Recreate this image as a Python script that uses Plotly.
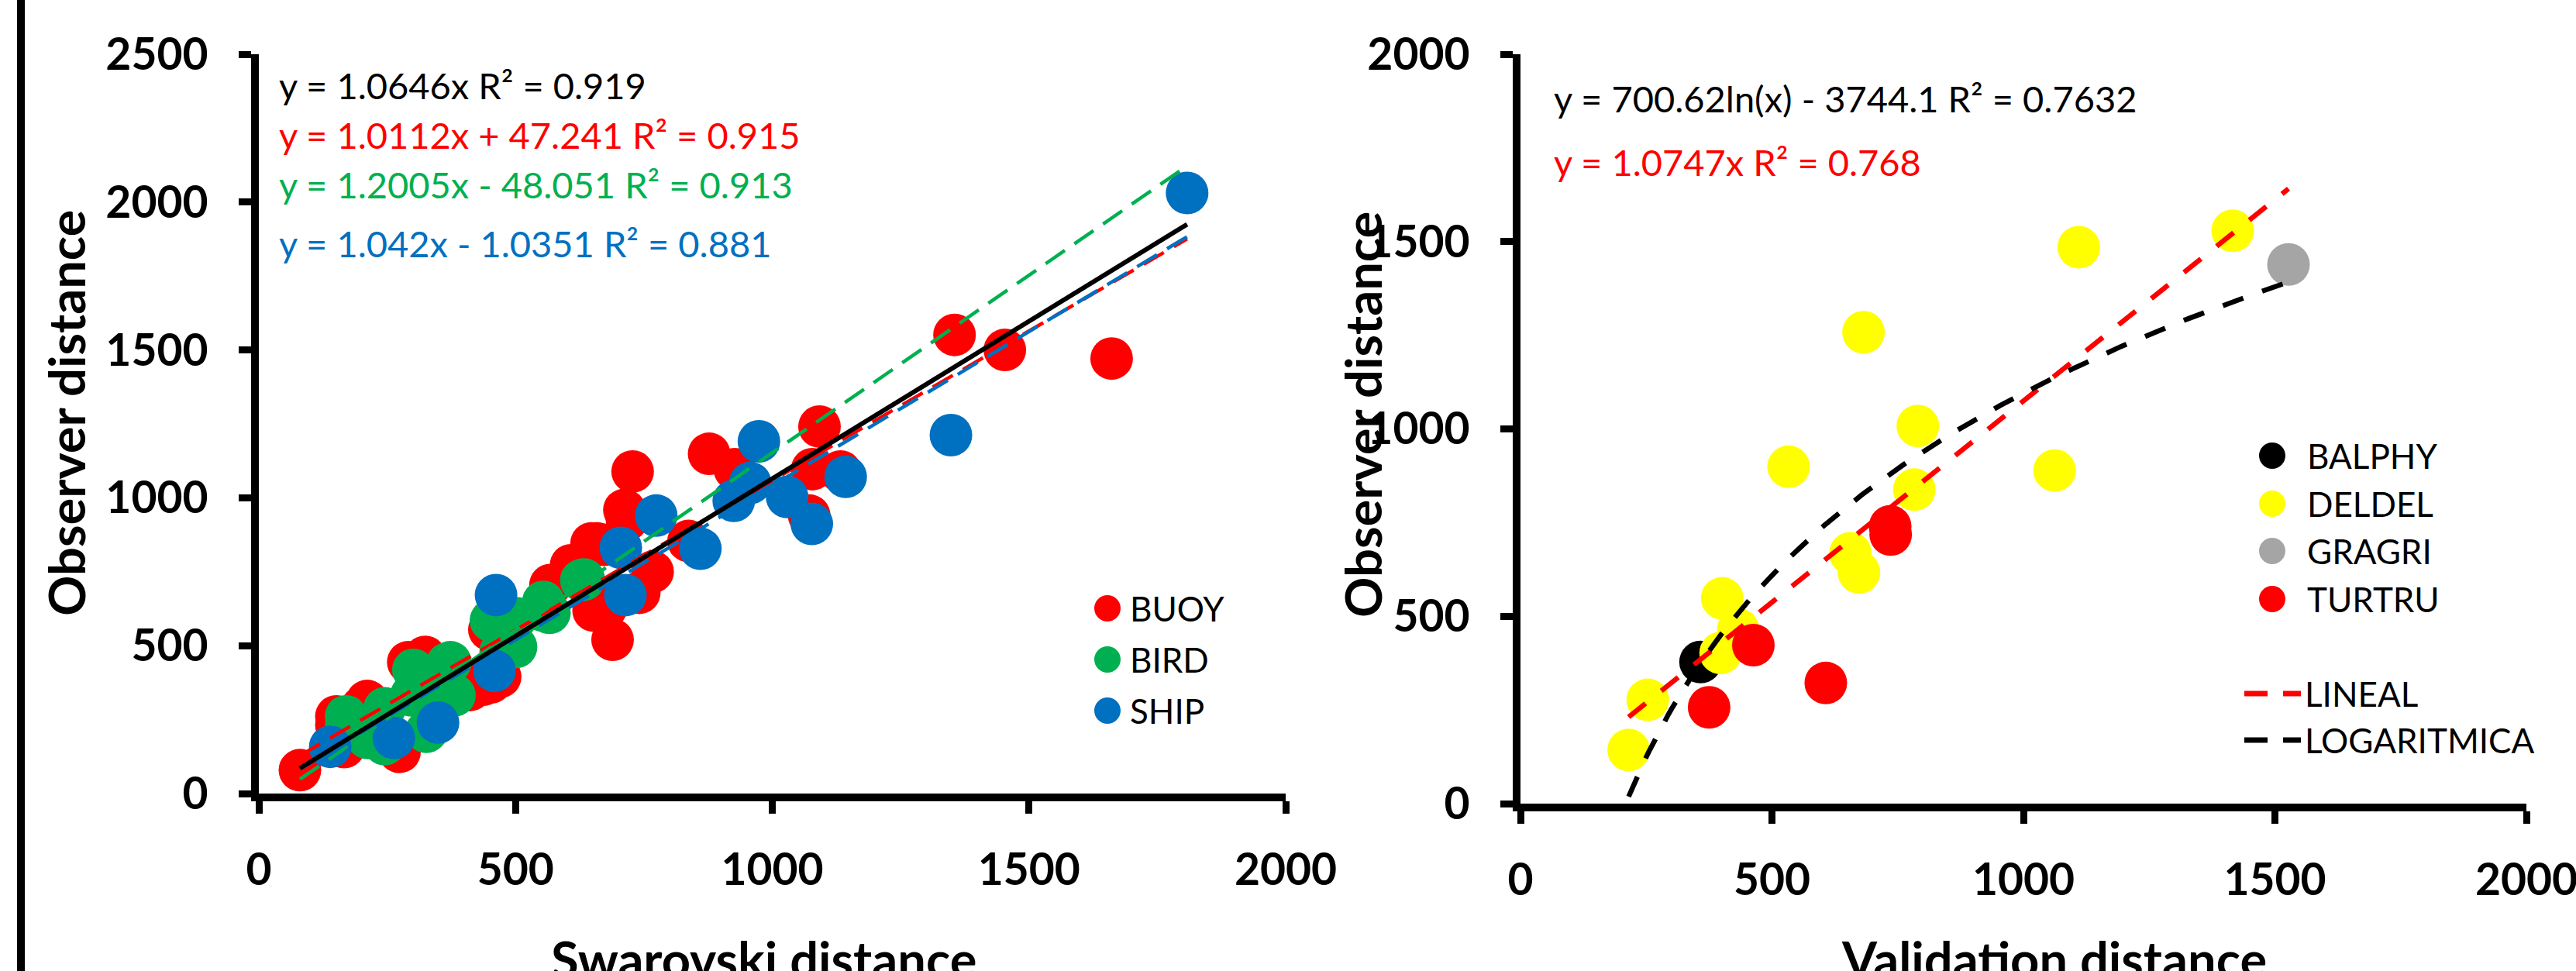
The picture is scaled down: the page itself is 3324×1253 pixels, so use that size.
import numpy as np
import plotly.graph_objects as go

W, H = 3324, 1253

# ---------------- data: left chart (Swarovski vs observer) ----------------
buoy_x = [80, 151, 166, 151, 211, 201, 274, 291, 324, 411, 432, 437, 449, 452, 470,
          568, 608, 648, 652, 658, 672, 676, 689, 712, 717, 728, 741, 767, 837, 877,
          927, 1072, 1078, 1092, 1133, 1355, 1453, 1661]
buoy_y = [79, 232, 157, 261, 313, 292, 141, 444, 462, 350, 387, 368, 554, 376, 395,
          705, 772, 846, 619, 846, 841, 627, 520, 959, 925, 1089, 679, 750, 854, 1149,
          1097, 940, 1097, 1241, 1089, 1551, 1500, 1471]

bird_x = [170, 170, 212, 245, 245, 297, 301, 309, 326, 331, 351, 367, 373, 381,
          452, 459, 471, 473, 501, 501, 553, 554, 566, 628, 633]
bird_y = [227, 261, 188, 288, 167, 332, 418, 402, 209, 219, 358, 439, 444, 332,
          585, 585, 480, 596, 496, 593, 619, 648, 611, 721, 724]

ship_x = [139, 263, 349, 459, 462, 705, 714, 774, 860, 925, 957, 974, 1029, 1077,
          1143, 1348, 1808]
ship_y = [158, 188, 240, 415, 671, 831, 671, 940, 828, 990, 1050, 1191, 1003, 912,
          1071, 1212, 2031]

# trendline equations (as printed on the chart)
all_slope = 1.0646
buoy_fit = (1.0112, 47.241)
bird_fit = (1.2005, -48.051)
ship_fit = (1.042, -1.0351)

left_texts = ["y = 1.0646x R² = 0.919",
              "y = 1.0112x + 47.241 R² = 0.915",
              "y = 1.2005x - 48.051 R² = 0.913",
              "y = 1.042x - 1.0351 R² = 0.881"]
left_names = ["BUOY", "BIRD", "SHIP"]

# ---------------- data: right chart (validation vs observer) ----------------
balphy_x = [358]
balphy_y = [378]
deldel_x = [215, 253, 398, 401, 433, 533, 656, 673, 682, 783, 790, 1062, 1110, 1416]
deldel_y = [143, 277, 402, 548, 464, 899, 668, 617, 1258, 838, 1008, 889, 1485, 1529]
gragri_x = [1527]
gragri_y = [1439]
turtru_x = [375, 463, 607, 735, 736]
turtru_y = [257, 423, 322, 740, 718]

lin_slope = 1.0747
log_a, log_b = 700.62, -3744.1
right_texts = ["y = 700.62ln(x) - 3744.1 R² = 0.7632", "y = 1.0747x R² = 0.768"]
right_names = ["BALPHY", "DELDEL", "GRAGRI", "TURTRU"]
line_names = ["LINEAL", "LOGARITMICA"]

tick_vals = [0, 500, 1000, 1500, 2000]
left_yticks = [0, 500, 1000, 1500, 2000, 2500]

# ---------------- styling ----------------
RED, GREEN, BLUE = "#FF0000", "#00B050", "#0070C0"
YELLOW, GREY, BLACK = "#FFFF00", "#A5A5A5", "#000000"
FONT = "Lato"
MS = 55


def px2x(px):
    return px / W


def py2y(py):
    return 1 - py / H


fig = go.Figure()

# left markers
for xs, ys, c in [(buoy_x, buoy_y, RED), (bird_x, bird_y, GREEN), (ship_x, ship_y, BLUE)]:
    fig.add_trace(go.Scatter(x=xs, y=ys, mode="markers", xaxis="x", yaxis="y",
                             marker=dict(size=MS, color=c, line=dict(width=0)),
                             showlegend=False, hoverinfo="skip"))

# left trendlines
allx = buoy_x + bird_x + ship_x
x0, x1 = min(allx), max(allx)
tx = np.array([x0, x1], dtype=float)
for (m, b), c in [(buoy_fit, RED), (bird_fit, GREEN), (ship_fit, BLUE)]:
    fig.add_trace(go.Scatter(x=tx, y=m * tx + b, mode="lines", xaxis="x", yaxis="y",
                             line=dict(color=c, width=4.5, dash="30px,15px"),
                             showlegend=False, hoverinfo="skip"))
fig.add_trace(go.Scatter(x=tx, y=all_slope * tx, mode="lines", xaxis="x", yaxis="y",
                         line=dict(color=BLACK, width=6), showlegend=False, hoverinfo="skip"))

# right markers
for xs, ys, c in [(balphy_x, balphy_y, BLACK), (deldel_x, deldel_y, YELLOW),
                  (gragri_x, gragri_y, GREY), (turtru_x, turtru_y, RED)]:
    fig.add_trace(go.Scatter(x=xs, y=ys, mode="markers", xaxis="x2", yaxis="y2",
                             marker=dict(size=MS, color=c, line=dict(width=0)),
                             showlegend=False, hoverinfo="skip"))

rx_all = balphy_x + deldel_x + gragri_x + turtru_x
rx = np.linspace(min(rx_all), max(rx_all), 200)
fig.add_trace(go.Scatter(x=rx, y=lin_slope * rx, mode="lines", xaxis="x2", yaxis="y2",
                         line=dict(color=RED, width=6.5, dash="28px,26px"),
                         showlegend=False, hoverinfo="skip"))
fig.add_trace(go.Scatter(x=rx, y=log_a * np.log(rx) + log_b, mode="lines", xaxis="x2", yaxis="y2",
                         line=dict(color=BLACK, width=6.5, dash="28px,26px"),
                         showlegend=False, hoverinfo="skip"))

axis_common = dict(showline=True, linewidth=10, linecolor=BLACK, ticks="outside",
                   ticklen=16, tickwidth=9, tickcolor=BLACK, showgrid=False, zeroline=False,
                   tickfont=dict(family=FONT, size=57, color=BLACK, weight="bold"),
                   fixedrange=True, automargin=False, ticklabeloverflow="allow")

fig.update_layout(
    template="none",
    width=W, height=H, margin=dict(l=0, r=0, t=0, b=0, pad=0, autoexpand=False),
    paper_bgcolor="white", plot_bgcolor="white",
    xaxis=dict(domain=[px2x(334), px2x(1659)], range=[0, 2000], tickvals=tick_vals,
               anchor="y", ticklabelstandoff=24, **axis_common),
    yaxis=dict(domain=[py2y(1024), py2y(70)], range=[0, 2500], tickvals=left_yticks,
               anchor="x", ticklabelstandoff=28, **axis_common),
    xaxis2=dict(domain=[px2x(1962), px2x(3260)], range=[0, 2000], tickvals=tick_vals,
                anchor="y2", ticklabelstandoff=24, **axis_common),
    yaxis2=dict(domain=[py2y(1037), py2y(70)], range=[0, 2000], tickvals=tick_vals,
                anchor="x2", ticklabelstandoff=28, **axis_common),
    showlegend=False,
)

ann = []
# equation texts
for t, c, py in zip(left_texts, [BLACK, RED, GREEN, BLUE], [110, 174, 238, 314]):
    ann.append(dict(x=px2x(358), y=py2y(py), text=t, font=dict(family=FONT, size=47, color=c)))
for t, c, py in zip(right_texts, [BLACK, RED], [127, 209]):
    ann.append(dict(x=px2x(2003), y=py2y(py), text=t, font=dict(family=FONT, size=47, color=c)))
# legend texts
for t, py in zip(left_names, [785, 851, 917]):
    ann.append(dict(x=px2x(1456), y=py2y(py), text=t, font=dict(family=FONT, size=44, color=BLACK)))
for t, py in zip(right_names, [588, 650, 711, 773]):
    ann.append(dict(x=px2x(2975), y=py2y(py), text=t, font=dict(family=FONT, size=44, color=BLACK)))
for t, py in zip(line_names, [895, 955]):
    ann.append(dict(x=px2x(2972), y=py2y(py), text=t, font=dict(family=FONT, size=44, color=BLACK)))
for a in ann:
    a.update(xref="paper", yref="paper", xanchor="left", yanchor="middle", showarrow=False)

# axis titles
title_font = dict(family=FONT, size=65, color=BLACK, weight="bold")
for x, y, t, ang in [(85, 533, "Observer distance", -90), (1758, 535, "Observer distance", -90)]:
    ann.append(dict(x=px2x(x), y=py2y(y), text=t, textangle=ang, font=title_font,
                    xref="paper", yref="paper", xanchor="center", yanchor="middle", showarrow=False))
for x, t in [(986, "Swarovski distance"), (2650, "Validation distance")]:
    ann.append(dict(x=px2x(x), y=py2y(1196), text=t, font=title_font,
                    xref="paper", yref="paper", xanchor="center", yanchor="top", showarrow=False))
fig.update_layout(annotations=ann)

shapes = []
# left page border line
shapes.append(dict(type="line", xref="paper", yref="paper", x0=px2x(27), x1=px2x(27),
                   y0=0, y1=1, line=dict(color=BLACK, width=10)))
# legend markers
for c, py in zip([RED, GREEN, BLUE], [785, 851, 917]):
    shapes.append(dict(type="circle", xref="paper", yref="paper", xsizemode="pixel", ysizemode="pixel",
                       xanchor=px2x(1429), yanchor=py2y(py), x0=-17, x1=17, y0=-17, y1=17,
                       fillcolor=c, line=dict(width=0)))
for c, py in zip([BLACK, YELLOW, GREY, RED], [588, 650, 711, 773]):
    shapes.append(dict(type="circle", xref="paper", yref="paper", xsizemode="pixel", ysizemode="pixel",
                       xanchor=px2x(2932), yanchor=py2y(py), x0=-17, x1=17, y0=-17, y1=17,
                       fillcolor=c, line=dict(width=0)))
for c, py in zip([RED, BLACK], [895, 955]):
    for a0, a1 in [(2896, 2926), (2946, 2969)]:
        shapes.append(dict(type="line", xref="paper", yref="paper", x0=px2x(a0), x1=px2x(a1),
                           y0=py2y(py), y1=py2y(py), line=dict(color=c, width=7)))
fig.update_layout(shapes=shapes)

fig.write_html("out.html")
